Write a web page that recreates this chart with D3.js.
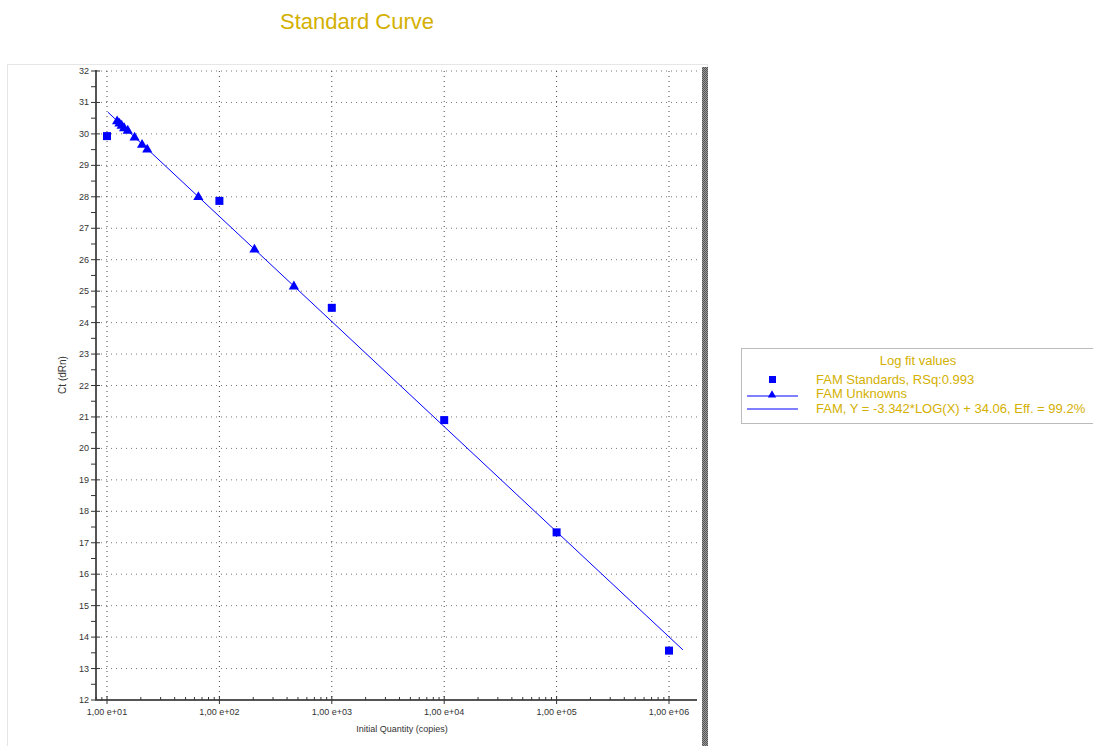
<!DOCTYPE html>
<html>
<head>
<meta charset="utf-8">
<script src="https://cdn.jsdelivr.net/npm/d3@7"></script>
<style>
  body { margin: 0; background: #fff; }
  svg { display: block; font-family: "Liberation Sans", Arial, sans-serif; }
</style>
</head>
<body>
<svg id="chart" width="1093" height="746"></svg>
<script>
// Standards (squares): quantity vs Ct
const standardQty = [1e1, 1e2, 1e3, 1e4, 1e5, 1e6];
const standardCt = [29.93, 27.87, 24.47, 20.9, 17.33, 13.57];

// Unknowns (triangles)
const unknownQty = [12.3, 12.9, 13.5, 14.2, 15.3, 17.6, 20.5, 22.8, 65, 205, 460];
const unknownCt = [30.4, 30.33, 30.26, 30.18, 30.1, 29.88, 29.65, 29.5, 27.99, 26.32, 25.15];

// Fit: Y = -3.342*LOG(X) + 34.06
const fitSlope = -3.342;
const fitIntercept = 34.06;
const fitRange = [10.2, 1.33e6];

const yTicks = d3.range(12, 33, 1);
const yMinor = d3.range(12.5, 32, 1);
const xDecades = [1e1, 1e2, 1e3, 1e4, 1e5, 1e6];
const xLabels = ['1,00 e+01', '1,00 e+02', '1,00 e+03', '1,00 e+04', '1,00 e+05', '1,00 e+06'];

const legendLabels = [
  'FAM Standards, RSq:0.993',
  'FAM Unknowns',
  'FAM, Y = -3.342*LOG(X) + 34.06, Eff. = 99.2%'
];

const GOLD = '#d4b000';
const BLUE = '#0000ff';

const svg = d3.select('#chart');

// checkerboard pattern for the right edge bar
const defs = svg.append('defs');
const pat = defs.append('pattern')
  .attr('id', 'checker')
  .attr('width', 2).attr('height', 2)
  .attr('patternUnits', 'userSpaceOnUse');
pat.append('rect').attr('width', 2).attr('height', 2).attr('fill', '#9a9a9a');
pat.append('rect').attr('width', 1).attr('height', 1).attr('fill', '#555');
pat.append('rect').attr('x', 1).attr('y', 1).attr('width', 1).attr('height', 1).attr('fill', '#555');

// panel
svg.append('rect')
  .attr('x', 7.5).attr('y', 64.5)
  .attr('width', 700).attr('height', 690)
  .attr('fill', '#fff').attr('stroke', '#e6e6e6');
svg.append('rect')
  .attr('x', 702).attr('y', 67)
  .attr('width', 6).attr('height', 680)
  .attr('fill', 'url(#checker)');

// title
svg.append('text')
  .attr('x', 357).attr('y', 29)
  .attr('text-anchor', 'middle')
  .attr('font-size', 22)
  .attr('fill', GOLD)
  .text('Standard Curve');

const x = d3.scaleLog()
  .domain([10, 1e6])
  .range([107, 669]);
const y = d3.scaleLinear()
  .domain([12, 32])
  .range([700, 71]);

const xLeft = 96;
const xRight = 697;

// gridlines
const grid = svg.append('g');
grid.selectAll('.hgrid')
  .data(yTicks.filter((d) => d > 12))
  .join('line')
  .attr('x1', xLeft).attr('x2', xRight)
  .attr('y1', (d) => y(d)).attr('y2', (d) => y(d))
  .attr('stroke', '#777')
  .attr('stroke-dasharray', '1,4');
grid.selectAll('.vgrid')
  .data(xDecades)
  .join('line')
  .attr('x1', (d) => x(d)).attr('x2', (d) => x(d))
  .attr('y1', y(32)).attr('y2', y(12))
  .attr('stroke', '#444')
  .attr('stroke-dasharray', '1,4');

// y axis
const yAxis = svg.append('g');
yAxis.append('line')
  .attr('x1', xLeft).attr('x2', xLeft)
  .attr('y1', y(32) - 1).attr('y2', y(12) + 1)
  .attr('stroke', '#555').attr('stroke-width', 2);
yAxis.selectAll('.maj')
  .data(yTicks)
  .join('line')
  .attr('x1', xLeft - 5).attr('x2', xLeft + 4)
  .attr('y1', (d) => y(d)).attr('y2', (d) => y(d))
  .attr('stroke', '#333');
yAxis.selectAll('.min')
  .data(yMinor)
  .join('line')
  .attr('x1', xLeft - 5).attr('x2', xLeft)
  .attr('y1', (d) => y(d)).attr('y2', (d) => y(d))
  .attr('stroke', '#333');
yAxis.selectAll('text')
  .data(yTicks)
  .join('text')
  .attr('x', xLeft - 7)
  .attr('y', (d) => y(d) + 3)
  .attr('text-anchor', 'end')
  .attr('font-size', 9)
  .attr('fill', '#333')
  .text((d) => d);
svg.append('text')
  .attr('transform', 'translate(66,375) rotate(-90)')
  .attr('text-anchor', 'middle')
  .attr('font-size', 10)
  .attr('fill', '#333')
  .text('Ct (dRn)');

// x axis
const xAxis = svg.append('g');
xAxis.append('line')
  .attr('x1', xLeft - 1).attr('x2', xRight)
  .attr('y1', y(12)).attr('y2', y(12))
  .attr('stroke', '#555').attr('stroke-width', 2);
const xMinor = [];
xDecades.forEach((d) => {
  for (let k = 2; k <= 9; k++) {
    if (d * k <= 1.7e6) xMinor.push(d * k);
  }
});
xMinor.push(9, 8);
xAxis.selectAll('.maj')
  .data(xDecades)
  .join('line')
  .attr('x1', (d) => x(d)).attr('x2', (d) => x(d))
  .attr('y1', y(12) - 4).attr('y2', y(12) + 4)
  .attr('stroke', '#333');
xAxis.selectAll('.min')
  .data(xMinor.filter((d) => x(d) >= xLeft))
  .join('line')
  .attr('x1', (d) => x(d)).attr('x2', (d) => x(d))
  .attr('y1', y(12) - 3).attr('y2', y(12))
  .attr('stroke', '#333');
xAxis.selectAll('text')
  .data(xDecades)
  .join('text')
  .attr('x', (d) => x(d))
  .attr('y', y(12) + 15)
  .attr('text-anchor', 'middle')
  .attr('font-size', 9)
  .attr('fill', '#333')
  .text((d, i) => xLabels[i]);
svg.append('text')
  .attr('x', 402).attr('y', 732)
  .attr('text-anchor', 'middle')
  .attr('font-size', 9)
  .attr('fill', '#333')
  .text('Initial Quantity (copies)');

// fit line
svg.append('path')
  .datum(fitRange)
  .attr('d', d3.line()
    .x((d) => x(d))
    .y((d) => y(fitSlope * Math.log10(d) + fitIntercept)))
  .attr('stroke', BLUE)
  .attr('stroke-width', 1)
  .attr('fill', 'none');

// unknowns
const tri = d3.symbol().type(d3.symbolTriangle).size(45);
svg.append('g')
  .selectAll('path')
  .data(unknownQty.map((q, i) => [q, unknownCt[i]]))
  .join('path')
  .attr('d', tri)
  .attr('transform', (d) => `translate(${x(d[0])},${y(d[1])})`)
  .attr('fill', BLUE);

// standards
svg.append('g')
  .selectAll('rect')
  .data(standardQty.map((q, i) => [q, standardCt[i]]))
  .join('rect')
  .attr('x', (d) => x(d[0]) - 4)
  .attr('y', (d) => y(d[1]) - 4)
  .attr('width', 8).attr('height', 8)
  .attr('fill', BLUE);

// legend
const lg = svg.append('g').attr('transform', 'translate(741,348)');
lg.append('rect')
  .attr('x', 0.5).attr('y', 0.5)
  .attr('width', 360).attr('height', 75)
  .attr('fill', '#fff')
  .attr('stroke', '#bbb');
lg.append('text')
  .attr('x', 177).attr('y', 17)
  .attr('text-anchor', 'middle')
  .attr('font-size', 13)
  .attr('fill', GOLD)
  .text('Log fit values');
const rowY = [32, 46, 61];
lg.append('rect')
  .attr('x', 28).attr('y', rowY[0] - 4)
  .attr('width', 7).attr('height', 7)
  .attr('fill', BLUE);
lg.append('line')
  .attr('x1', 6).attr('x2', 57)
  .attr('y1', rowY[1] + 2).attr('y2', rowY[1] + 2)
  .attr('stroke', BLUE);
lg.append('path')
  .attr('d', d3.symbol().type(d3.symbolTriangle).size(30))
  .attr('transform', `translate(31,${rowY[1] + 1})`)
  .attr('fill', BLUE);
lg.append('line')
  .attr('x1', 6).attr('x2', 57)
  .attr('y1', rowY[2]).attr('y2', rowY[2])
  .attr('stroke', BLUE);
lg.selectAll('.lab')
  .data(legendLabels)
  .join('text')
  .attr('x', 75)
  .attr('y', (d, i) => rowY[i] + 4)
  .attr('font-size', 13)
  .attr('fill', GOLD)
  .text((d) => d);
</script>
</body>
</html>
